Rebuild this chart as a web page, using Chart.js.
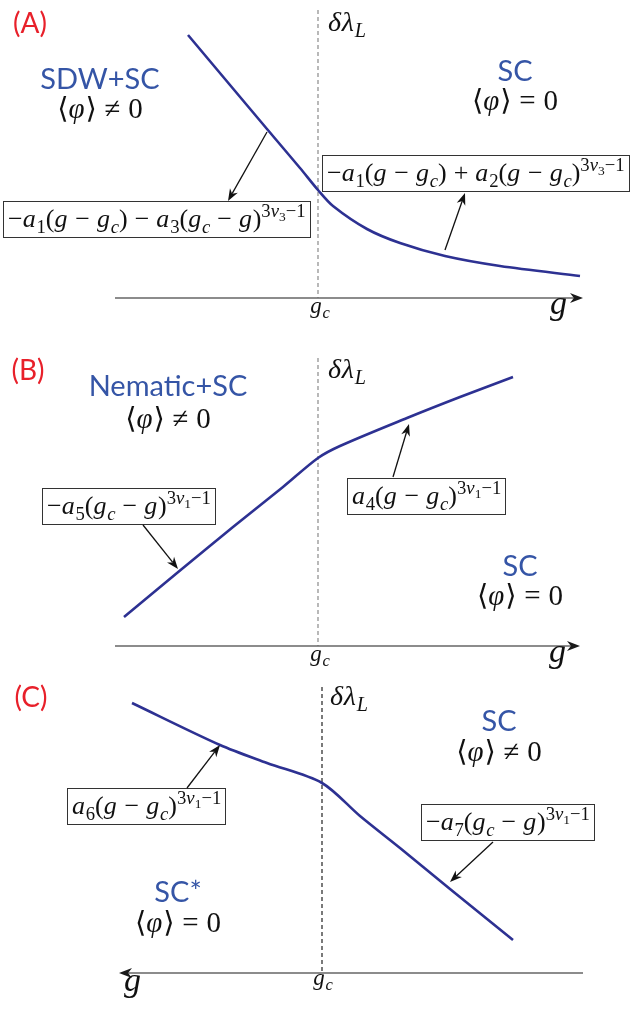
<!DOCTYPE html>
<html>
<head>
<meta charset="utf-8">
<script src="https://cdn.jsdelivr.net/npm/chart.js@4"></script>
<style>
  body { margin: 0; background: #fff; }
  canvas { display: block; }
</style>
</head>
<body>
<canvas id="chartA" width="632" height="330"></canvas>
<canvas id="chartB" width="632" height="340"></canvas>
<canvas id="chartC" width="632" height="341"></canvas>
<script>
// g - g_c (arbitrary units, g_c = 0) and delta lambda_L
const gA   = [-1.30, -0.88, -0.51, -0.18, 0.00, 0.15, 0.49, 0.82, 1.27, 1.82, 2.62];
const lamA = [ 2.63,  2.13,  1.69,  1.30, 1.08, 0.92, 0.69, 0.55, 0.42, 0.32, 0.22];
const gB   = [-1.94, -1.41, -0.85, -0.35, 0.00, 0.22, 0.89, 1.42, 1.95];
const lamB = [ 0.29,  0.73,  1.19,  1.59, 1.88, 2.00, 2.28, 2.49, 2.69];
const gC   = [ 1.90,  1.02,  0.55,  0.00, -0.38, -0.78, -1.28, -1.91];
const lamC = [ 2.70,  2.28,  2.10,  1.90,  1.57,  1.25,  0.84,  0.33];

// labels
const panelNames = ['(A)', '(B)', '(C)'];
const phaseNames = [['SDW+SC', 'SC'], ['Nematic+SC', 'SC'], ['SC', 'SC*']];
const orderParams = [['⟨φ⟩≠0', '⟨φ⟩=0'], ['⟨φ⟩≠0', '⟨φ⟩=0'], ['⟨φ⟩≠0', '⟨φ⟩=0']];
const formulas = [
  ['−a_1(g−g_c)−a_3(g_c−g)^{3ν_3−1}', '−a_1(g−g_c)+a_2(g−g_c)^{3ν_3−1}'],
  ['−a_5(g_c−g)^{3ν_1−1}', 'a_4(g−g_c)^{3ν_1−1}'],
  ['a_6(g−g_c)^{3ν_1−1}', '−a_7(g_c−g)^{3ν_1−1}']
];
const yLabel = 'δλ_L';
const xLabel = 'g';
const xTick = 'g_c';

const CURVE = '#2d3192';
const PHASE_BLUE = '#3555a6';
const RED = '#e8202a';
const MATH_FONT = '"Liberation Serif", "DejaVu Serif", serif';
const SANS = 'Lato, "Open Sans", sans-serif';

// ---- tiny TeX-ish text renderer ----
function parseMath(s, size, dy, out) {
  let i = 0;
  while (i < s.length) {
    const ch = s[i];
    if (ch === '_' || ch === '^') {
      i++;
      let grp;
      if (s[i] === '{') {
        let d = 1, j = i + 1;
        while (d) { if (s[j] === '{') d++; else if (s[j] === '}') d--; j++; }
        grp = s.slice(i + 1, j - 1); i = j;
      } else { grp = s[i]; i++; }
      parseMath(grp, size * 0.72, dy + (ch === '_' ? size * 0.22 : -size * 0.40), out);
      continue;
    }
    if (ch !== ' ') out.push({ ch, size, dy });
    i++;
  }
  return out;
}

function drawMath(ctx, s, x, y, size, align, color) {
  const items = parseMath(s, size, 0, []);
  let w = 0;
  items.forEach((it, k) => {
    const op = '−+=≠'.includes(it.ch);
    const italic = /[a-zα-ωφ]/i.test(it.ch);
    it.font = (italic ? 'italic ' : '') + it.size.toFixed(1) + 'px ' + MATH_FONT;
    ctx.font = it.font;
    const gap = (op && it.size === size && k > 0) ? size * 0.27 : 0;
    w += gap; it.x = w; w += ctx.measureText(it.ch).width + gap;
    if (italic && it.size === size) w += size * 0.03;
  });
  const x0 = align === 'center' ? x - w / 2 : x;
  ctx.fillStyle = color || '#111';
  ctx.textAlign = 'left';
  ctx.textBaseline = 'alphabetic';
  items.forEach(it => { ctx.font = it.font; ctx.fillText(it.ch, x0 + it.x, y + it.dy); });
  return w;
}

function arrow(ctx, x1, y1, x2, y2, len, half) {
  const a = Math.atan2(y2 - y1, x2 - x1), c = Math.cos(a), s = Math.sin(a);
  const bx = x2 - len * 0.7 * c, by = y2 - len * 0.7 * s;
  ctx.beginPath(); ctx.moveTo(x1, y1); ctx.lineTo(bx, by); ctx.stroke();
  ctx.beginPath();
  ctx.moveTo(x2, y2);
  ctx.lineTo(x2 - len * c + half * s, y2 - len * s - half * c);
  ctx.lineTo(bx, by);
  ctx.lineTo(x2 - len * c - half * s, y2 - len * s + half * c);
  ctx.closePath(); ctx.fill();
}

// annotation layout for each panel, in data coordinates
const layouts = [
  { letter: [-2.88, 2.65], dashTop: 2.88, dashColor: '#8a8a8a', axis: [-2.03, 2.65],
    gLab: [2.41, -0.16], gcLab: [0.02, -0.15], lam: [0.10, 2.67],
    phases: [[-2.18, 2.09, 1.80], [1.97, 2.17, 1.88]],
    boxes: [[-3.15, 0.97], [0.04, 1.43]],
    arrows: [[-0.51, 1.66, -0.90, 0.97], [1.27, 0.48, 1.47, 1.05]] },
  { letter: [-2.90, 2.66], dashTop: 2.88, dashColor: '#8a8a8a', axis: [-2.03, 2.62],
    gLab: [2.40, -0.16], gcLab: [0.02, -0.15], lam: [0.10, 2.68],
    phases: [[-1.50, 2.50, 2.18], [2.02, 0.70, 0.41]],
    boxes: [[-2.76, 1.58], [0.29, 1.68]],
    arrows: [[-1.75, 1.21, -1.40, 0.77], [0.75, 1.69, 0.91, 2.22]] },
  { letter: [2.91, 2.66], dashTop: 2.86, dashColor: '#222', axis: [-2.61, 2.03],
    gLab: [1.89, -0.18], gcLab: [-0.01, -0.12], lam: [-0.08, 2.68],
    phases: [[-1.77, 2.42, 2.12], [1.44, 0.71, 0.41]],
    boxes: [[2.55, 1.85], [-0.99, 1.69]],
    arrows: [[1.35, 1.85, 1.02, 2.28], [-1.71, 1.31, -1.28, 0.91]] }
];

function sketchPlugin(k) {
  const L = layouts[k];
  return {
    id: 'sketch' + k,
    beforeDatasetsDraw(chart) {
      const { ctx, scales: { x, y } } = chart;
      const X = v => x.getPixelForValue(v), Y = v => y.getPixelForValue(v);
      ctx.save();
      ctx.strokeStyle = L.dashColor; ctx.lineWidth = 1.2; ctx.setLineDash([4, 3]);
      ctx.beginPath(); ctx.moveTo(X(0), Y(L.dashTop)); ctx.lineTo(X(0), Y(0)); ctx.stroke();
      ctx.setLineDash([]);
      ctx.strokeStyle = '#666'; ctx.fillStyle = '#1a1a1a'; ctx.lineWidth = 1.5;
      arrow(ctx, X(L.axis[0]), Y(0), X(L.axis[1]), Y(0), 13, 5);
      ctx.restore();
    },
    afterDatasetsDraw(chart) {
      const { ctx, scales: { x, y } } = chart;
      const X = v => x.getPixelForValue(v), Y = v => y.getPixelForValue(v);
      ctx.save();
      // panel letter
      ctx.font = '28px ' + SANS; ctx.fillStyle = RED;
      ctx.textAlign = 'center'; ctx.textBaseline = 'alphabetic';
      ctx.fillText(panelNames[k], X(L.letter[0]), Y(L.letter[1]));
      // axis labels
      drawMath(ctx, yLabel, X(L.lam[0]), Y(L.lam[1]), 28, 'left');
      drawMath(ctx, xLabel, X(L.gLab[0]), Y(L.gLab[1]), 34, 'center');
      drawMath(ctx, xTick, X(L.gcLab[0]), Y(L.gcLab[1]), 23, 'center');
      // phases
      L.phases.forEach((p, i) => {
        ctx.font = '29px ' + SANS; ctx.fillStyle = PHASE_BLUE;
        ctx.textAlign = 'center'; ctx.textBaseline = 'alphabetic';
        ctx.fillText(phaseNames[k][i], X(p[0]), Y(p[1]));
        drawMath(ctx, orderParams[k][i], X(p[0]), Y(p[2]), 29, 'center');
      });
      // formula boxes
      L.boxes.forEach((b, i) => {
        const bx = X(b[0]), by = Y(b[1]);
        const w = drawMath(ctx, formulas[k][i], bx + 5, by + 26, 26, 'left');
        ctx.strokeStyle = '#333'; ctx.lineWidth = 1;
        ctx.strokeRect(Math.round(bx) + 0.5, Math.round(by) + 0.5, Math.round(w + 9), 36);
      });
      // pointer arrows
      ctx.strokeStyle = '#111'; ctx.fillStyle = '#111'; ctx.lineWidth = 1.3;
      L.arrows.forEach(a => arrow(ctx, X(a[0]), Y(a[1]), X(a[2]), Y(a[3]), 12, 4.5));
      ctx.restore();
    }
  };
}

function makePanel(id, k, gs, lams, xRange, yRange, reverse) {
  new Chart(document.getElementById(id), {
    type: 'line',
    data: {
      datasets: [{
        data: gs.map((g, i) => ({ x: g, y: lams[i] })),
        borderColor: CURVE,
        borderWidth: 2.6,
        pointRadius: 0,
        fill: false,
        tension: 0.3
      }]
    },
    options: {
      responsive: false,
      animation: false,
      layout: { padding: 0 },
      scales: {
        x: { type: 'linear', min: xRange[0], max: xRange[1], reverse: reverse, display: false },
        y: { type: 'linear', min: yRange[0], max: yRange[1], display: false }
      },
      plugins: { legend: { display: false }, tooltip: { enabled: false } }
    },
    plugins: [sketchPlugin(k)]
  });
}

makePanel('chartA', 0, gA, lamA, [-3.18, 3.14], [-0.32, 2.98], false);
makePanel('chartB', 1, gB, lamB, [-3.18, 3.14], [-0.24, 3.16], false);
makePanel('chartC', 2, gC, lamC, [-3.10, 3.22], [-0.38, 3.03], true);
</script>
</body>
</html>
